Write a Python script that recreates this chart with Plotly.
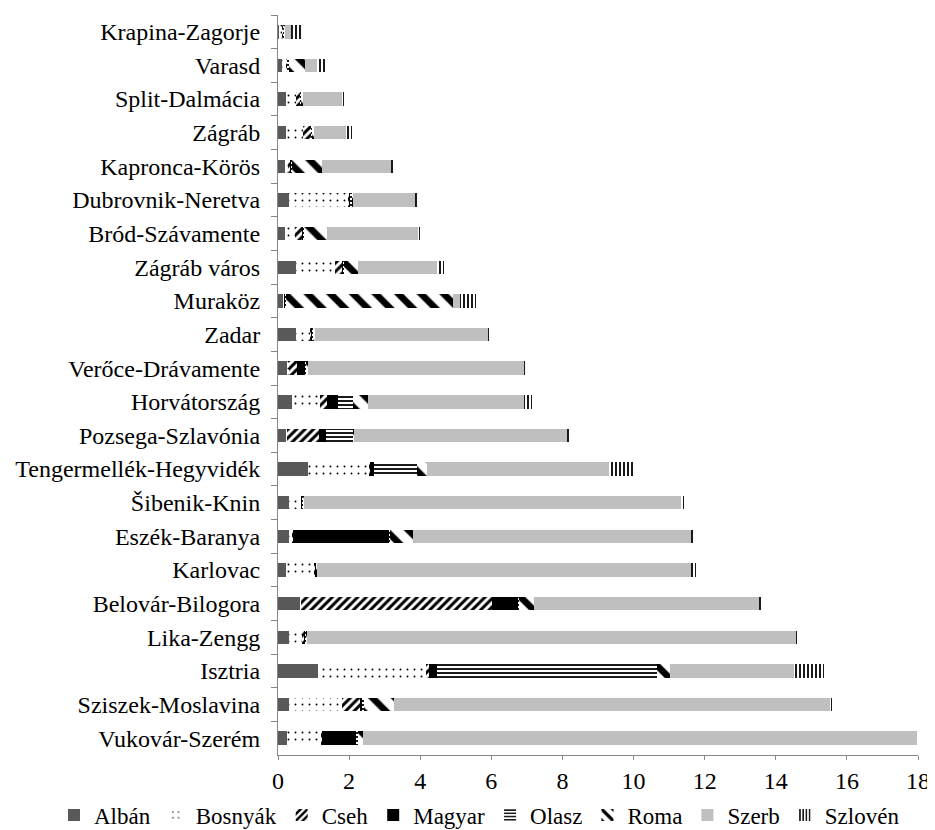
import plotly.graph_objects as go

categories = ["Krapina-Zagorje", "Varasd", "Split-Dalmácia", "Zágráb", "Kapronca-Körös",
              "Dubrovnik-Neretva", "Bród-Szávamente", "Zágráb város", "Muraköz", "Zadar",
              "Verőce-Drávamente", "Horvátország", "Pozsega-Szlavónia", "Tengermellék-Hegyvidék",
              "Šibenik-Knin", "Eszék-Baranya", "Karlovac", "Belovár-Bilogora", "Lika-Zengg",
              "Isztria", "Sziszek-Moslavina", "Vukovár-Szerém"]

alban   = [0.04, 0.10, 0.22, 0.23, 0.20, 0.32, 0.20, 0.52, 0.15, 0.52, 0.28, 0.40, 0.23, 0.83, 0.30, 0.30, 0.23, 0.62, 0.30, 1.13, 0.30, 0.24]
bosnyak = [0.10, 0.15, 0.30, 0.47, 0.10, 1.65, 0.28, 1.08, 0.02, 0.38, 0.03, 0.77, 0.02, 1.73, 0.35, 0.10, 0.80, 0.02, 0.40, 3.06, 1.50, 0.98]
cseh    = [0.02, 0.03, 0.10, 0.23, 0.05, 0.05, 0.22, 0.20, 0.02, 0.05, 0.22, 0.20, 0.90, 0.02, 0.02, 0.02, 0.02, 5.37, 0.05, 0.05, 0.53, 0.02]
magyar  = [0.00, 0.00, 0.02, 0.02, 0.02, 0.02, 0.02, 0.03, 0.02, 0.02, 0.25, 0.32, 0.20, 0.12, 0.02, 2.72, 0.02, 0.75, 0.02, 0.22, 0.05, 0.98]
olasz   = [0.02, 0.02, 0.03, 0.03, 0.02, 0.05, 0.02, 0.03, 0.02, 0.03, 0.02, 0.42, 0.77, 1.20, 0.02, 0.02, 0.02, 0.03, 0.02, 6.20, 0.03, 0.02]
roma    = [0.03, 0.47, 0.02, 0.03, 0.85, 0.02, 0.65, 0.40, 4.70, 0.05, 0.03, 0.42, 0.02, 0.30, 0.02, 0.65, 0.02, 0.40, 0.02, 0.36, 0.84, 0.14]
szerb   = [0.15, 0.33, 1.12, 0.90, 1.95, 1.75, 2.55, 2.20, 0.20, 4.85, 6.10, 4.40, 6.00, 5.10, 10.60, 7.80, 10.50, 6.35, 13.75, 3.50, 12.30, 15.60]
szloven = [0.30, 0.28, 0.05, 0.17, 0.03, 0.05, 0.05, 0.20, 0.45, 0.10, 0.05, 0.20, 0.03, 0.75, 0.10, 0.07, 0.15, 0.10, 0.08, 0.84, 0.03, 0.02]

xticks = [0, 2, 4, 6, 8, 10, 12, 14, 16, 18]

series = [
    ("Albán", alban, dict(color="#595959")),
    ("Bosnyák", bosnyak, dict(color="white", pattern=dict(shape=".", fgcolor="black", bgcolor="white", size=7, solidity=0.06, fillmode="replace"))),
    ("Cseh", cseh, dict(color="white", pattern=dict(shape="/", fgcolor="black", bgcolor="white", size=6, solidity=0.5, fillmode="replace"))),
    ("Magyar", magyar, dict(color="black")),
    ("Olasz", olasz, dict(color="white", pattern=dict(shape="-", fgcolor="black", bgcolor="white", size=4, solidity=0.45, fillmode="replace"))),
    ("Roma", roma, dict(color="white", pattern=dict(shape="\\", fgcolor="black", bgcolor="white", size=16, solidity=0.42, fillmode="replace"))),
    ("Szerb", szerb, dict(color="#bfbfbf")),
    ("Szlovén", szloven, dict(color="white", pattern=dict(shape="|", fgcolor="black", bgcolor="white", size=4, solidity=0.45, fillmode="replace"))),
]

FONT = "'Liberation Serif', 'Times New Roman', Times, serif"

fig = go.Figure()
for name, vals, marker in series:
    marker = dict(marker)
    marker["line"] = dict(width=0)
    fig.add_trace(go.Bar(y=categories, x=vals, name=name, orientation="h", marker=marker))

# page body has an 8px margin, so the figure is 8px smaller than the window
fig.update_layout(
    barmode="stack",
    bargap=0.6,
    width=927, height=822,
    paper_bgcolor="white", plot_bgcolor="white",
    margin=dict(l=270, r=17, t=7, b=75, autoexpand=False),
    font=dict(family=FONT, size=23, color="black"),
    legend=dict(orientation="h", x=-0.35, xanchor="left", y=-0.052, yanchor="top",
                font=dict(family=FONT, size=23), traceorder="normal",
                itemwidth=30, tracegroupgap=0),
    showlegend=True,
)
fig.update_xaxes(range=[0, 18], tickvals=xticks, showgrid=False, zeroline=False,
                 showline=True, linecolor="#868686", linewidth=1, ticks="outside",
                 tickcolor="#868686", ticklen=4, tickfont=dict(size=24), automargin=False)
fig.update_yaxes(autorange="reversed", showgrid=False, showline=True, linecolor="#868686",
                 linewidth=1, ticks="outside", tickcolor="#868686", ticklen=6,
                 tickson="boundaries", tickfont=dict(size=24), ticklabelstandoff=12,
                 automargin=False)

fig.write_html("out.html")
